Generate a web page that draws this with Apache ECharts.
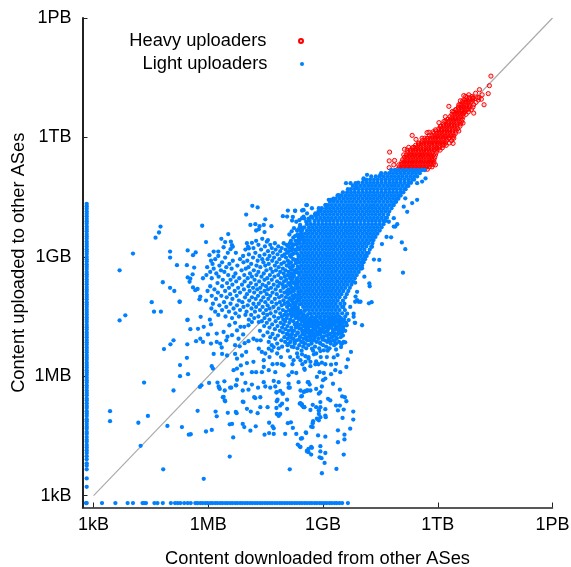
<!DOCTYPE html>
<html><head><meta charset="utf-8">
<script src="https://cdn.jsdelivr.net/npm/echarts@6/dist/echarts.min.js"></script>
<style>html,body{margin:0;padding:0;background:#fff}#c{width:571px;height:567px}</style></head>
<body><div id="c"></div>
<script>
// All values are log10(bytes).
const tickValues = [3, 6, 9, 12, 15];
const tickLabels = ['1kB', '1MB', '1GB', '1TB', '1PB'];
const diagonal = [[3, 3], [15, 15]];

// ASes that report no download: the strip along the left axis
const noDownloadX = 2.82;
const noDownloadUp = [2.81,3.22,3.43,3.66,3.75,3.81,3.91,3.99,4.07,4.14,4.21,4.27,4.35,4.40,4.47,4.55,4.60,4.68,4.73,4.80,4.87,4.92,5.00,5.06,5.12,5.20,5.25,5.32,5.39,5.44,5.52,5.58,5.64,5.71,5.77,5.84,5.90,5.96,6.03,6.09,6.15,6.22,6.28,6.34,6.41,6.47,6.53,6.60,6.66,6.72,6.79,6.85,6.91,6.98,7.04,7.10,7.17,7.23,7.29,7.36,7.42,7.48,7.55,7.61,7.67,7.74,7.80,7.86,7.93,7.99,8.05,8.12,8.18,8.24,8.31,8.37,8.43,8.50,8.56,8.62,8.69,8.75,8.81,8.88,8.94,9.00,9.07,9.13,9.19,9.26,9.32,9.38,9.45,9.51,9.57,9.64,9.70,9.76,9.83,9.89,9.95,10.02,10.08,10.14,10.21,10.27,10.33];

// ASes that report no upload: the strip along the bottom axis
const noUploadY = 2.81;
const noUploadDown = [2.80,3.22,3.57,3.89,4.03,4.28,4.32,4.37,4.59,4.67,4.81,5.02,5.13,5.20,5.27,5.37,5.46,5.54,5.66,5.72,5.79,5.85,5.92,5.98,6.05,6.11,6.18,6.24,6.31,6.37,6.44,6.50,6.57,6.63,6.70,6.76,6.83,6.89,6.96,7.02,7.09,7.15,7.22,7.28,7.35,7.41,7.48,7.54,7.61,7.67,7.74,7.80,7.87,7.93,8.00,8.06,8.13,8.19,8.26,8.32,8.39,8.45,8.52,8.58,8.65,8.71,8.78,8.84,8.91,8.97,9.04,9.10,9.17,9.23,9.30,9.36,9.43,9.50,9.65];

// Scattered light uploaders
const lightSparse = [[3.68,8.66],[3.68,7.40],[3.83,7.53],[4.03,9.08],[4.52,7.86],[4.58,7.62],[4.76,7.62],[4.32,5.84],[3.43,5.12],[3.43,4.87],[4.42,5.00],[4.17,4.83],[4.23,4.25],[4.82,3.66],[5.88,3.42],[8.13,3.66],[6.56,3.98],[4.81,8.36],[5.00,8.22],[5.11,8.14],[5.25,7.87],[4.84,6.68],[5.01,6.80],[5.09,6.90],[5.45,7.41],[5.53,7.18],[5.73,7.19],[5.88,7.24],[6.07,7.30],[5.45,6.80],[5.44,6.46],[5.26,6.28],[5.26,6.00],[5.47,6.05],[5.09,5.64],[5.78,5.73],[5.82,5.77],[6.02,5.83],[6.24,5.84],[6.28,5.71],[5.72,5.13],[6.19,5.11],[6.22,4.99],[4.93,4.75],[5.31,4.72],[5.49,4.53],[5.54,4.54],[5.94,4.61],[6.09,4.65],[6.65,4.46],[4.75,9.76],[4.71,9.61],[4.62,9.48],[5.84,9.78],[5.00,9.13],[5.00,8.98],[5.46,9.16],[5.67,9.11],[5.60,9.04],[5.18,8.79],[5.44,8.79],[5.63,8.73],[5.59,8.56],[5.86,8.46],[5.46,8.48],[5.53,8.45],[5.51,8.37],[5.60,8.23],[5.72,8.19],[5.66,8.16],[5.25,7.87],[5.79,8.00],[5.77,7.93],[5.80,7.49],[5.46,7.42],[5.94,9.37],
[7.15,10.28],[7.29,10.24],[6.99,10.06],[7.49,9.94],[7.10,9.80],[7.23,9.82],[7.34,9.77],[7.45,9.80],[7.65,9.77],[7.25,9.66],[7.47,9.62],[7.32,9.69],[6.52,9.57],[6.34,9.45],[6.44,9.37],[6.59,9.38],[6.62,9.29],[6.64,9.25],[7.01,9.34],[7.14,9.35],[7.25,9.40],[7.41,9.45],[7.56,9.42],[7.53,9.38],[6.40,9.24],[7.04,9.25],[7.06,9.21],[6.03,9.04],[6.14,9.13],[6.26,9.13],[6.26,9.02],[6.51,9.10],[6.58,9.19],
[7.95,10.02],[8.06,10.01],[8.08,10.16],[8.27,10.16],[8.19,9.91],[8.38,9.92],[8.49,10.01],[8.69,10.01],[8.80,10.09],[8.41,9.76],[8.58,10.30],[8.49,10.17],[8.89,10.22],[8.71,10.22],[8.45,10.16],[8.56,10.30],[8.58,10.09],[9.06,10.30],[9.19,10.43],[9.28,10.43],[9.41,10.55],[9.60,10.85],[9.72,10.85],[9.85,10.85],[10.06,10.97],[10.15,11.06],[10.50,11.06],[9.87,10.76],[9.15,10.43],[8.80,10.05],[8.93,10.18],[8.27,10.15],[8.48,10.18],[8.21,10.00],[8.45,9.97],[8.32,9.66],[8.27,9.52],[8.40,9.80],[8.19,9.25],[8.14,9.04],
[11.68,10.97],[11.59,10.89],[11.46,10.85],[11.46,10.43],[11.33,10.35],[11.20,10.13],[11.11,10.26],[11.15,10.47],[10.89,9.76],[10.94,9.82],[10.78,9.49],[10.66,9.50],[11.06,9.36],[11.15,9.19],[10.54,9.32],[10.85,9.97],[10.72,9.88],[10.85,9.76],[10.28,9.25],[10.33,8.93],[10.47,8.92],[10.47,8.67],[11.09,8.60],[10.21,8.33],[10.22,8.26],[10.20,7.83],[10.27,7.86],[10.02,7.28],[9.83,7.34],[9.98,7.87],[9.89,8.12],[9.85,8.00],[9.89,7.91],[9.84,7.87],[9.93,7.87],[10.08,8.50],[10.02,8.71],[9.84,8.35],[9.67,7.41],[9.80,7.49],[9.84,7.34],[9.80,7.57],[9.71,7.74],[9.50,7.74],[9.63,7.57],[9.23,7.28],[9.41,7.20],[9.50,7.11],
[9.73,6.61],[9.65,6.42],[9.61,6.23],[9.45,6.10],[9.34,6.31],[9.21,6.29],[9.06,6.30],[8.97,6.34],[9.32,6.15],[9.21,6.05],[9.26,5.81],[9.02,6.08],[8.91,6.10],[8.84,5.98],[9.06,5.94],[9.00,5.90],[8.97,5.74],[9.44,5.66],[9.50,5.49],[9.57,5.47],[9.61,5.37],[9.13,5.43],[9.19,5.39],[9.34,5.26],[9.44,5.26],[9.39,5.14],[9.54,5.16],[9.79,5.11],[9.79,4.91],[9.51,4.95],[9.71,4.68],[9.56,4.53],[9.56,4.41],[9.39,4.64],[9.39,4.34],[9.54,4.03],[9.35,3.67],[9.06,4.48],[8.87,4.51],[8.93,4.24],[8.93,4.11],[9.06,4.07],[8.96,3.94],[9.04,3.82],[8.97,3.56],[8.71,4.20],[8.62,4.17],[8.58,4.11],[8.69,4.03],[8.42,4.43],[8.41,4.22],[8.55,4.59],[8.69,4.73],[8.74,4.87],[8.84,4.93],[8.93,4.97],[9.06,5.01],[9.07,4.97],[8.89,5.05],[8.89,5.14],[9.06,5.17],[8.93,5.22],[8.93,5.35],[8.73,5.28],[8.82,5.22],[8.51,5.22],[8.45,5.29],[8.58,5.64],[8.49,5.60],[8.65,5.79],[8.60,5.85],[8.82,5.68],[8.93,5.60],[8.43,5.49],
[6.90,4.80],[6.94,4.72],[7.10,4.63],[7.24,4.74],[7.47,4.53],[7.59,4.57],[7.71,4.55],[7.59,4.83],[7.68,4.74],[7.71,4.69],[7.79,5.05],[7.84,5.00],[7.88,5.05],[7.78,5.20],[7.79,5.37],[7.93,5.31],[7.79,5.60],[7.94,5.56],[8.10,5.81],[8.10,5.71],[8.36,5.85],[8.01,4.55],[8.08,4.82],[8.16,4.84],[8.21,4.70],[8.30,4.55],[8.34,4.28],[8.39,4.23],[8.56,4.57],[8.45,4.44],[8.58,4.13],[8.62,4.09],[8.69,4.22],[8.73,4.82],[8.73,4.72],[8.89,4.89],[8.91,3.96],[8.39,5.31],[8.45,5.26],[8.49,5.22],[8.89,5.14],[8.54,5.62],[8.60,5.64],[8.62,5.85],[8.67,5.64],[8.89,5.56],[8.67,5.15],[6.56,4.79],[6.62,4.80],[6.51,5.08],[6.72,5.10],[6.74,5.07],[6.40,5.48],[6.44,5.37],[6.57,5.71],[6.72,5.77],[6.92,5.35],[7.01,5.18],[7.11,5.11],[7.29,5.07],[7.55,5.22],[7.36,5.22],[7.20,5.47],[7.36,5.47],
[6.75,5.91],[6.88,6.06],[7.14,6.10],[7.25,6.10],[7.40,6.10],[7.45,6.23],[7.58,6.15],[7.75,6.10],[8.19,6.10],[8.30,6.08],[8.52,6.16],[8.62,6.44],[6.97,5.83],[7.14,5.79],[7.45,5.85],[7.71,5.88],[7.84,5.85],[7.49,5.74],[7.62,5.71],[7.75,5.74],[8.13,5.71],[8.41,5.64],[8.52,5.62],[8.45,5.50],[6.42,5.87],[6.27,5.74],[6.30,5.68],[6.43,5.64],[6.60,5.71],[6.73,5.77],[6.90,5.64],[7.05,5.66],[7.30,5.71],[7.78,5.59],[7.88,5.63],[7.95,5.56],[6.38,5.47],[6.43,5.39],[7.23,5.45],[7.81,5.41],[8.06,5.41],[6.90,5.36],[7.88,5.26],[8.41,5.32],[8.51,5.22],[8.06,5.18],
[5.68,6.88],[5.79,6.94],[5.86,6.86],[5.99,7.05],[6.07,6.82],[6.22,7.07],[6.40,7.11],[6.55,7.28],[6.62,7.03],[6.75,7.15],[6.84,7.24],[6.94,7.24],[7.05,7.28],[7.14,7.36],[7.32,7.36],[6.70,7.34],[6.22,6.86],[6.31,6.82],[6.35,6.72],[6.47,6.90],[6.50,6.99],[6.70,6.78],[6.79,6.94],[6.82,6.75],[6.91,7.05],[6.95,6.83],[7.05,6.88],[7.18,6.94],[7.27,6.90],[6.14,6.56],[6.36,6.56],[6.49,6.52],[6.70,6.56],[6.75,6.44],[6.88,6.52],[6.99,6.61],[7.01,6.33],[7.18,6.36],[7.32,6.69],[7.40,6.61],[7.49,6.57],[7.45,6.40],[7.58,6.69],[7.71,6.73],[7.80,6.57],[7.80,6.31],[7.97,6.27],[8.10,6.82],[8.23,6.73],[8.32,6.57],[8.41,6.40],[8.54,6.36],[8.23,6.40],[6.09,6.25],[6.12,6.19],[6.66,6.15],[6.75,6.19],[6.85,6.27],[8.10,6.02],[8.67,6.36],[8.82,6.37],[8.54,6.50],[8.45,6.55],[8.51,6.19],[8.67,6.25],[8.71,6.69],[8.76,6.55],[8.82,6.57],[8.93,6.63],[9.02,6.65],[9.15,6.69],[9.34,6.67],[9.28,6.47],[9.38,6.53],[9.47,6.73],[9.54,6.86],[9.58,6.85],[9.48,6.80]];

// Cloud around the solid core, read in thin rows of [upload, [download, ...]]
const lightCloudRows = [
[9.34,[7.74,7.97,8.13]],[9.30,[7.31,7.62,8.04,8.24]],[9.26,[7.48,7.83,8.09]],[9.22,[7.18,7.66,7.92,8.17]],[9.18,[6.97,7.38,7.76,8.02,8.26]],[9.14,[7.56,7.88,8.11]],[9.10,[6.72,7.23,7.69,8.06]],[9.06,[7.06,7.47,7.81,7.99,8.19]],[9.02,[6.91,7.34,7.60,7.93,8.14]],[8.98,[6.44,7.17,7.72,8.03]],[8.94,[6.18,6.83,7.41,7.55,7.86,8.22]],[8.90,[6.07,6.64,7.02,7.29,7.67,8.08]],[8.86,[6.36,6.92,7.44,7.79,7.98,8.16]],[8.82,[6.11,6.55,7.12,7.58,7.91]],[8.78,[6.29,6.76,7.26,7.49,7.74,8.05,8.21]],[8.74,[5.97,6.47,7.05,7.36,7.84,8.13]],[8.70,[6.14,6.61,6.98,7.63,7.95]],[8.66,[6.33,6.87,7.19,7.52,7.77,8.02,8.24]],[8.62,[6.05,6.42,7.31,7.68,7.88,8.10]],[8.58,[6.21,6.71,7.09,7.45,7.97,8.18]],
[8.54,[5.95,6.52,6.94,7.26,7.61,7.83,8.07]],[8.50,[6.27,6.66,7.14,7.39,7.73,8.00,8.21]],[8.46,[6.09,6.81,7.03,7.54,7.90,8.14]],[8.42,[6.38,6.58,7.21,7.47,7.66,8.04]],[8.38,[6.73,6.95,7.33,7.80,7.98,8.17]],[8.34,[6.24,6.49,7.11,7.58,7.87,8.09,8.23]],[8.30,[6.63,6.88,7.25,7.42,7.71,7.94,8.13]],[8.26,[6.05,6.36,7.05,7.51,7.82,8.03]],[8.22,[6.54,6.78,7.17,7.36,7.64,7.96,8.18]],[8.18,[6.16,6.93,7.28,7.56,7.76,8.10]],[8.14,[5.98,6.44,6.69,7.08,7.47,7.89,8.06,8.24]],[8.10,[6.25,6.83,7.20,7.37,7.68,7.99,8.15]],[8.06,[6.57,7.01,7.53,7.79,8.08]],[8.02,[6.09,6.34,6.74,7.30,7.62,7.92,8.20]],[7.98,[6.48,6.96,7.14,7.44,7.85,8.03,8.26]],[7.94,[6.20,6.63,7.24,7.57,7.74,8.12]],[7.90,[5.94,6.80,7.07,7.38,7.97,8.18]],[7.86,[6.41,6.89,7.49,7.66,7.87,8.08,8.30]],[7.82,[6.12,6.58,7.18,7.32,7.78,8.00,8.22]],[7.78,[6.29,6.75,7.03,7.55,7.92,8.14]],
[7.74,[6.47,6.92,7.25,7.42,7.70,8.06,8.27]],[7.70,[6.08,6.66,7.13,7.60,7.84,8.19,8.34]],[7.66,[6.36,6.83,7.35,7.51,7.95,8.11,8.28]],[7.62,[6.18,6.54,7.00,7.22,7.76,8.03,8.22,8.38]],[7.58,[6.71,7.44,7.63,7.88,8.15,8.31,8.42]],[7.54,[6.26,6.97,7.12,7.54,7.99,8.08,8.25,8.36,8.50]],[7.50,[6.45,6.80,7.31,7.72,7.92,8.18,8.33,8.46,8.58]],[7.46,[6.62,7.20,7.47,7.83,8.05,8.28,8.41,8.55]],[7.42,[6.04,7.06,7.60,7.96,8.14,8.37,8.50,8.64,9.22,9.37,9.55]],
[7.38,[7.40,7.76,8.01,8.22,8.45,8.60,8.74,9.08,9.30,9.48]],[7.34,[7.53,7.89,8.12,8.32,8.52,8.69,8.86,9.17,9.42,9.60]],[7.30,[7.67,7.97,8.26,8.41,8.57,8.78,8.95,9.26]],[7.26,[7.46,7.81,8.07,8.36,8.48,8.66,9.01,9.14,9.37,9.54]],[7.22,[7.60,7.93,8.17,8.29,8.55,8.82,9.07,9.22,9.47]],[7.18,[7.74,8.02,8.44,8.62,8.75,8.98,9.33]],[7.14,[7.35,7.87,8.10,8.24,8.51,8.70,8.90,9.12,9.44,9.58]],[7.10,[7.55,7.95,8.34,8.58,8.84,9.03,9.25]],[7.06,[7.68,8.05,8.19,8.46,8.64,8.93,9.18,9.39]],[7.02,[7.44,7.82,8.14,8.28,8.73,8.81,9.10,9.30,9.52]],[6.98,[7.62,7.99,8.40,8.56,8.97,9.23,9.46]],[6.94,[7.75,8.08,8.22,8.49,8.68,8.88,9.15,9.36]],[6.90,[7.37,7.91,8.31,8.60,8.76,9.05,9.27]],[6.86,[7.58,8.01,8.15,8.43,8.83,9.11,9.42]],[6.82,[7.80,8.26,8.53,8.70,8.93,9.20,9.34]],[6.78,[7.66,8.07,8.38,8.62,9.00,9.29]],[6.74,[7.93,8.18,8.48,8.79,9.08]],[6.70,[7.84,8.33,8.56,8.90,9.17]],[6.64,[7.66,8.08,8.44,8.74,9.12]],[6.48,[7.60,7.90,8.14,8.34,8.62,8.94,9.10]],[6.30,[7.68,7.92,8.20,8.46,8.80,8.88]]];

// Speckled left flank of the core and its thinning lower end
const lightFlankRows = [
[9.96,[8.62,8.51]],[9.88,[8.30,8.56]],[9.72,[8.24,8.38,8.47]],[9.64,[8.18,8.42]],[9.56,[8.12,8.33,8.40]],[9.48,[8.22,8.36]],[9.40,[8.16,8.28,8.34]],[9.32,[8.20,8.30]],[9.24,[8.11,8.34]],[9.16,[8.18,8.29]],[9.08,[8.23,8.32]],[9.00,[8.16,8.36]],[8.92,[8.26,8.33]],[8.84,[8.12,8.29]],[8.76,[8.21,8.34]],[8.68,[8.17,8.31]],[8.60,[8.27,8.35]],[8.52,[8.11,8.24]],[8.44,[8.19,8.30]],[8.36,[8.26,8.33]],[8.28,[8.15,8.29]],[8.20,[8.23,8.32]],[8.12,[8.18,8.35]],[8.04,[8.27,8.36]],[7.96,[8.13,8.24,8.34]],[7.88,[8.20,8.31]],[7.80,[8.11,8.27,8.38]],[7.72,[8.22,8.33]],[7.64,[8.16,8.30,8.42,8.52]],[7.56,[8.24,8.47,8.61]],
[7.46,[8.67,8.79,8.92,9.04,9.15,9.28,9.47]],[7.40,[8.72,8.84,8.98,9.13,9.26,9.43]],[7.36,[8.55,8.81,8.93,9.02,9.21,9.37,9.53]],[7.32,[8.64,8.75,9.06,9.30,9.47]],[7.28,[8.30,8.51,8.87,8.99,9.12,9.44,9.62]],[7.24,[8.60,8.73,9.20,9.33]],[7.20,[8.38,8.91,9.01,9.15,9.52]],[7.16,[8.18,8.56,8.80,9.26,9.39]],[7.12,[8.46,8.67,8.96,9.08]],[7.08,[8.33,8.74,9.31,9.47]],[7.04,[8.09,8.52,8.88,9.14]],[7.00,[8.40,8.64,9.02,9.24]],[6.96,[8.17,8.78,9.35]],[6.92,[8.37,8.57,8.99]],[6.88,[8.26,8.69,9.19,9.30]],[6.84,[8.49,8.92,9.52]]];

// Solid core of the light uploaders: rows of [upload, [download, ...]]
const lightCoreRows = [
[11.18,[10.78,10.88,10.98,11.08,11.18,11.28,11.38,11.48,11.58,11.66]],
[11.10,[10.52,10.63,10.73,10.83,10.93,11.03,11.13,11.23,11.33,11.43,11.53]],
[11.02,[10.26,10.38,10.48,10.58,10.68,10.78,10.88,10.98,11.08,11.18,11.28,11.38,11.46]],
[10.94,[10.06,10.13,10.23,10.33,10.43,10.53,10.63,10.73,10.83,10.93,11.03,11.13,11.23,11.33,11.38]],
[10.86,[9.92,10.03,10.13,10.23,10.33,10.43,10.53,10.63,10.73,10.83,10.93,11.03,11.13,11.23,11.30]],
[10.78,[9.78,9.88,9.98,10.08,10.18,10.28,10.38,10.48,10.58,10.68,10.78,10.88,10.98,11.08,11.18,11.23]],
[10.70,[9.65,9.73,9.83,9.93,10.03,10.13,10.23,10.33,10.43,10.53,10.63,10.73,10.83,10.93,11.03,11.13,11.16]],
[10.62,[9.52,9.63,9.73,9.83,9.93,10.03,10.13,10.23,10.33,10.43,10.53,10.63,10.73,10.83,10.93,11.03,11.10]],
[10.54,[9.38,9.48,9.58,9.68,9.78,9.88,9.98,10.08,10.18,10.28,10.38,10.48,10.58,10.68,10.78,10.88,10.98,11.03]],
[10.46,[9.27,9.33,9.43,9.53,9.63,9.73,9.83,9.93,10.03,10.13,10.23,10.33,10.43,10.53,10.63,10.73,10.83,10.93,10.97]],
[10.38,[9.18,9.28,9.38,9.48,9.58,9.68,9.78,9.88,9.98,10.08,10.18,10.28,10.38,10.48,10.58,10.68,10.78,10.88,10.91]],
[10.30,[9.07,9.13,9.23,9.33,9.43,9.53,9.63,9.73,9.83,9.93,10.03,10.13,10.23,10.33,10.43,10.53,10.63,10.73,10.83,10.85]],
[10.22,[8.97,9.08,9.18,9.28,9.38,9.48,9.58,9.68,9.78,9.88,9.98,10.08,10.18,10.28,10.38,10.48,10.58,10.68,10.79]],
[10.14,[8.88,8.93,9.03,9.13,9.23,9.33,9.43,9.53,9.63,9.73,9.83,9.93,10.03,10.13,10.23,10.33,10.43,10.53,10.63,10.73]],
[10.06,[8.79,8.88,8.98,9.08,9.18,9.28,9.38,9.48,9.58,9.68,9.78,9.88,9.98,10.08,10.18,10.28,10.38,10.48,10.58,10.70]],
[9.98,[8.72,8.83,8.93,9.03,9.13,9.23,9.33,9.43,9.53,9.63,9.73,9.83,9.93,10.03,10.13,10.23,10.33,10.43,10.53,10.63,10.67]],
[9.90,[8.65,8.78,8.88,8.98,9.08,9.18,9.28,9.38,9.48,9.58,9.68,9.78,9.88,9.98,10.08,10.18,10.28,10.38,10.48,10.58,10.63]],
[9.82,[8.58,8.68,8.78,8.88,8.98,9.08,9.18,9.28,9.38,9.48,9.58,9.68,9.78,9.88,9.98,10.08,10.18,10.28,10.38,10.48,10.58]],
[9.74,[8.51,8.63,8.73,8.83,8.93,9.03,9.13,9.23,9.33,9.43,9.53,9.63,9.73,9.83,9.93,10.03,10.13,10.23,10.33,10.43,10.53]],
[9.66,[8.45,8.58,8.68,8.78,8.88,8.98,9.08,9.18,9.28,9.38,9.48,9.58,9.68,9.78,9.88,9.98,10.08,10.18,10.28,10.38,10.48]],
[9.58,[8.44,8.53,8.63,8.73,8.83,8.93,9.03,9.13,9.23,9.33,9.43,9.53,9.63,9.73,9.83,9.93,10.03,10.13,10.23,10.33,10.42]],
[9.50,[8.42,8.48,8.58,8.68,8.78,8.88,8.98,9.08,9.18,9.28,9.38,9.48,9.58,9.68,9.78,9.88,9.98,10.08,10.18,10.28,10.37]],
[9.42,[8.40,8.48,8.53,8.63,8.73,8.83,8.93,9.03,9.13,9.23,9.33,9.43,9.53,9.63,9.73,9.83,9.93,10.03,10.13,10.23,10.32]],
[9.34,[8.38,8.48,8.58,8.68,8.78,8.88,8.98,9.08,9.18,9.28,9.38,9.48,9.58,9.68,9.78,9.88,9.98,10.08,10.18,10.29]],
[9.26,[8.43,8.53,8.63,8.73,8.83,8.93,9.03,9.13,9.23,9.33,9.43,9.53,9.63,9.73,9.83,9.93,10.03,10.13,10.26]],
[9.18,[8.38,8.48,8.58,8.68,8.78,8.88,8.98,9.08,9.18,9.28,9.38,9.48,9.58,9.68,9.78,9.88,9.98,10.08,10.22]],
[9.10,[8.43,8.53,8.63,8.73,8.83,8.93,9.03,9.13,9.23,9.33,9.43,9.53,9.63,9.73,9.83,9.93,10.03,10.13,10.19]],
[9.02,[8.38,8.48,8.58,8.68,8.78,8.88,8.98,9.08,9.18,9.28,9.38,9.48,9.58,9.68,9.78,9.88,9.98,10.08,10.14]],
[8.94,[8.43,8.53,8.63,8.73,8.83,8.93,9.03,9.13,9.23,9.33,9.43,9.53,9.63,9.73,9.83,9.93,10.03,10.10]],
[8.86,[8.38,8.48,8.58,8.68,8.78,8.88,8.98,9.08,9.18,9.28,9.38,9.48,9.58,9.68,9.78,9.88,9.98,10.06]],
[8.78,[8.43,8.53,8.63,8.73,8.83,8.93,9.03,9.13,9.23,9.33,9.43,9.53,9.63,9.73,9.83,9.93,10.02]],
[8.70,[8.38,8.48,8.58,8.68,8.78,8.88,8.98,9.08,9.18,9.28,9.38,9.48,9.58,9.68,9.78,9.88,9.98]],
[8.62,[8.43,8.53,8.63,8.73,8.83,8.93,9.03,9.13,9.23,9.33,9.43,9.53,9.63,9.73,9.83,9.93]],
[8.54,[8.38,8.48,8.58,8.68,8.78,8.88,8.98,9.08,9.18,9.28,9.38,9.48,9.58,9.68,9.78,9.88]],
[8.46,[8.33,8.43,8.53,8.63,8.73,8.83,8.93,9.03,9.13,9.23,9.33,9.43,9.53,9.63,9.73,9.83]],
[8.38,[8.38,8.48,8.58,8.68,8.78,8.88,8.98,9.08,9.18,9.28,9.38,9.48,9.58,9.68,9.78]],
[8.30,[8.33,8.43,8.53,8.63,8.73,8.83,8.93,9.03,9.13,9.23,9.33,9.43,9.53,9.63,9.74]],
[8.22,[8.38,8.48,8.58,8.68,8.78,8.88,8.98,9.08,9.18,9.28,9.38,9.48,9.58,9.70]],
[8.14,[8.43,8.53,8.63,8.73,8.83,8.93,9.03,9.13,9.23,9.33,9.43,9.53,9.66]],
[8.06,[8.38,8.48,8.58,8.68,8.78,8.88,8.98,9.08,9.18,9.28,9.38,9.48,9.62]],
[7.98,[8.43,8.53,8.63,8.73,8.83,8.93,9.03,9.13,9.23,9.33,9.43,9.58]],
[7.90,[8.38,8.48,8.58,8.68,8.78,8.88,8.98,9.08,9.18,9.28,9.38,9.52]],
[7.82,[8.43,8.53,8.63,8.73,8.83,8.93,9.03,9.13,9.23,9.33,9.45,9.56]],
[7.74,[8.48,8.58,8.68,8.78,8.88,8.98,9.08,9.18,9.28,9.38,9.53]],
[7.66,[8.53,8.63,8.73,8.83,8.93,9.03,9.13,9.23,9.33,9.43,9.57]],
[7.58,[8.68,8.78,8.88,8.98,9.08,9.18,9.28,9.38,9.50]],
[7.50,[8.71,8.83,8.93,9.03,9.13,9.23,9.33,9.42,9.58]]];

// Heavy uploaders: outliers, then the dense band as rows
const heavySparse = [[13.39,13.54],[13.35,13.30],[13.32,13.10],[13.21,12.82],[13.09,13.20],[13.16,13.07],[13.14,12.96],[12.99,13.11],[12.81,13.07],[12.73,13.03],[12.65,12.92],[12.58,12.82],[12.29,12.78],[12.94,12.61],[12.81,12.71],[12.68,12.61],[12.66,12.36],[12.55,12.16],[12.40,11.85],[12.03,12.37],[11.88,12.14],[11.72,12.12],[11.33,12.05],[11.43,11.95],[11.50,11.84],[11.13,11.70],[11.11,11.56],[10.74,11.63],[10.73,11.41],[10.87,11.42],[10.73,11.24],[10.85,11.31],[10.98,11.31],[11.94,11.31],[11.85,11.43],[11.98,11.73],[12.16,11.81],[13.04,13.00],[12.92,12.98],[12.16,12.40],[11.77,12.13],[11.59,11.98],[11.24,11.75],[11.37,11.75],[11.20,11.68],[12.59,12.92],[12.68,13.05],[12.90,13.03],[12.55,12.82],[12.64,12.69],[12.29,11.98],[12.42,11.98],[12.38,12.65],[12.46,12.69],[12.20,12.52],[12.07,12.27],[11.94,12.19]];
const heavyRows = [
[11.20,[10.96,11.03,11.10,11.17,11.24,11.31,11.38,11.45,11.52,11.59,11.66,11.73]],
[11.26,[11.00,11.07,11.14,11.21,11.28,11.35,11.42,11.49,11.56,11.63,11.70,11.78,11.85]],
[11.32,[11.04,11.11,11.18,11.25,11.32,11.39,11.46,11.53,11.60,11.67,11.74,11.81,11.88]],
[11.38,[11.06,11.13,11.20,11.27,11.34,11.41,11.48,11.55,11.62,11.69,11.76,11.83,11.90]],
[11.44,[11.08,11.15,11.22,11.29,11.36,11.43,11.50,11.57,11.64,11.71,11.78,11.85,11.90]],
[11.50,[11.13,11.20,11.27,11.34,11.41,11.48,11.55,11.62,11.69,11.76,11.83,11.92]],
[11.56,[11.18,11.25,11.32,11.39,11.46,11.53,11.60,11.67,11.74,11.81,11.88,11.94]],
[11.62,[11.22,11.29,11.36,11.43,11.50,11.57,11.64,11.71,11.78,11.85,11.96]],
[11.68,[11.28,11.35,11.42,11.49,11.56,11.63,11.70,11.77,11.84,11.91,11.98,12.06]],
[11.74,[11.34,11.41,11.48,11.55,11.62,11.69,11.76,11.83,11.90,11.97,12.04,12.12]],
[11.80,[11.42,11.49,11.56,11.63,11.70,11.77,11.84,11.91,11.98,12.05,12.12,12.22]],
[11.86,[11.50,11.57,11.64,11.71,11.78,11.85,11.92,11.99,12.06,12.13,12.20,12.30]],
[11.92,[11.60,11.67,11.74,11.81,11.88,11.95,12.02,12.09,12.16,12.23,12.36]],
[11.98,[11.66,11.73,11.80,11.87,11.94,12.01,12.08,12.15,12.22,12.29,12.38]],
[12.04,[11.78,11.85,11.92,11.99,12.06,12.13,12.20,12.27,12.34,12.42]],
[12.10,[11.90,11.97,12.04,12.11,12.18,12.25,12.32,12.39,12.46]],
[12.16,[11.96,12.03,12.10,12.17,12.24,12.31,12.38,12.48]],
[12.22,[12.03,12.10,12.17,12.24,12.31,12.38,12.45,12.52]],
[12.28,[12.08,12.15,12.22,12.29,12.36,12.43,12.50,12.58]],
[12.34,[12.15,12.22,12.29,12.36,12.43,12.50,12.60]],
[12.40,[12.21,12.28,12.35,12.42,12.49,12.56,12.62]],
[12.46,[12.26,12.33,12.40,12.47,12.54,12.64]],
[12.52,[12.32,12.39,12.46,12.53,12.60,12.66]],
[12.58,[12.37,12.44,12.51,12.58,12.65,12.74]],
[12.64,[12.42,12.49,12.56,12.63,12.70,12.80]],
[12.70,[12.48,12.55,12.62,12.69,12.76,12.88]],
[12.76,[12.54,12.61,12.68,12.75,12.82,12.92]],
[12.82,[12.62,12.69,12.76,12.83,12.94]],
[12.88,[12.66,12.73,12.80,12.87,13.00]],
[12.94,[12.70,12.77,12.84,12.91,13.06]],
[13.00,[12.76,12.83,12.92,13.08]]];

const heavyName = 'Heavy uploaders';
const lightName = 'Light uploaders';

function fromRows(rows) {
  const out = [];
  rows.forEach(function (r) { r[1].forEach(function (x) { out.push([x, r[0]]); }); });
  return out;
}
const heavyData = heavySparse.concat(fromRows(heavyRows));
const lightData = noDownloadUp.map(function (y) { return [noDownloadX, y]; })
  .concat(noUploadDown.map(function (x) { return [x, noUploadY]; }))
  .concat(lightSparse, fromRows(lightCloudRows), fromRows(lightFlankRows), fromRows(lightCoreRows));

const font = '"Liberation Sans", Arial, sans-serif';
const labelByValue = {};
tickValues.forEach(function (v, i) { labelByValue[v] = tickLabels[i]; });

function axis(name, min, nameGap, lineWidth, margin) {
  return {
    type: 'value', min: min, max: 15, name: name, nameLocation: 'middle', nameGap: nameGap, nameMoveOverlap: false,
    nameTextStyle: { fontFamily: font, fontSize: 18.3, color: '#000' },
    splitLine: { show: false },
    axisLine: { show: true, onZero: false, lineStyle: { color: '#222', width: lineWidth } },
    axisTick: { show: true, inside: true, length: 5, customValues: tickValues, lineStyle: { color: '#222', width: 1 } },
    axisLabel: { show: true, customValues: tickValues, margin: margin, fontFamily: font, fontSize: 18, color: '#000',
      formatter: function (v) { return labelByValue[v] || ''; } }
  };
}
function legend(name, top) {
  return { show: true, data: [name], orient: 'vertical', align: 'right', right: 267, top: top, padding: 0,
    itemWidth: 59, itemHeight: 4, textStyle: { fontFamily: font, fontSize: 18.3, color: '#000', padding: 0 } };
}
const chart = echarts.init(document.getElementById('c'), null, { renderer: 'canvas' });
chart.setOption({
  animation: false,
  backgroundColor: '#fff',
  grid: { left: 82.5, right: 18.5, top: 18, bottom: 59.5, outerBoundsMode: 'none' },
  xAxis: axis('Content downloaded from other ASes', 2.71, 42.5, 1.5, 9),
  yAxis: axis('Content uploaded to other ASes', 2.7, 54.5, 2, 11),
  legend: [legend(heavyName, 32), legend(lightName, 55)],
  series: [
    { type: 'line', data: diagonal, showSymbol: false, silent: true, z: 1, lineStyle: { color: '#aaa', width: 1.2 } },
    { name: heavyName, type: 'scatter', data: heavyData, z: 2, symbol: 'circle', symbolSize: 4.2, progressive: 0,
      itemStyle: { color: 'rgba(255,0,0,0.15)', borderColor: '#ff0000', borderWidth: 1, opacity: 1 } },
    { name: lightName, type: 'scatter', data: lightData, z: 3, symbol: 'circle', symbolSize: 4.3, progressive: 0,
      itemStyle: { color: '#0080ff', opacity: 1 } }
  ]
});
</script></body></html>
